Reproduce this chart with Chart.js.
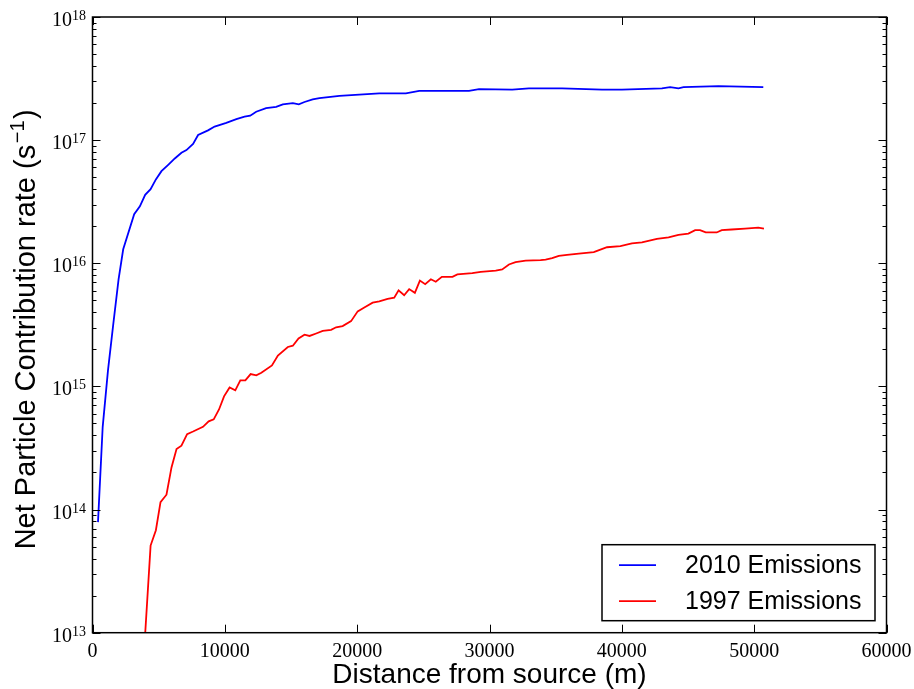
<!DOCTYPE html>
<html>
<head>
<meta charset="utf-8">
<script src="https://cdn.jsdelivr.net/npm/chart.js@4.4.1/dist/chart.umd.min.js"></script>
<style>
  html, body { margin: 0; padding: 0; background: #fff; }
  #wrap { width: 914px; height: 689px; }
</style>
</head>
<body>
<div id="wrap"><canvas id="particleChart"></canvas></div>
<script>
// --- data ---
const seriesLabels = ['2010 Emissions', '1997 Emissions'];
const seriesColors = ['#0000ff', '#ff0000'];

// 2010 emissions: distance (m) and contribution rate (s^-1)
const dist2010 = [415, 770, 1170, 1570, 1970, 2320, 3150, 3580, 3980, 4390,
    4790, 5210, 5720, 6220, 6720, 7100, 7600, 7980, 8730, 9230,
    10110, 10870, 11490, 11920, 12370, 13120, 13880, 14380, 15140, 15590,
    16020, 16640, 17150, 18660, 20160, 21670, 23680, 24690, 28450, 29210,
    31720, 32980, 35490, 38500, 40010, 43030, 43650, 44280, 44660, 47300,
    50690];
const rate2010 = [7.9e13, 4.7e14, 1.35e15, 3.2e15, 7.4e15, 1.3e16, 2.5e16, 2.9e16, 3.6e16, 4.0e16,
    4.8e16, 5.6e16, 6.3e16, 7.1e16, 7.9e16, 8.3e16, 9.3e16, 1.10e17, 1.20e17, 1.29e17,
    1.38e17, 1.48e17, 1.55e17, 1.58e17, 1.70e17, 1.82e17, 1.86e17, 1.95e17, 2.0e17, 1.95e17,
    2.04e17, 2.14e17, 2.19e17, 2.29e17, 2.34e17, 2.40e17, 2.40e17, 2.51e17, 2.51e17, 2.60e17,
    2.57e17, 2.63e17, 2.63e17, 2.57e17, 2.57e17, 2.63e17, 2.69e17, 2.63e17, 2.69e17, 2.75e17,
    2.69e17];

// 1997 emissions
const dist1997 = [3980, 4390, 4790, 5140, 5590, 5970, 6350, 6720, 7150, 7600,
    8350, 8780, 9160, 9560, 9940, 10360, 10790, 11170, 11550, 11950,
    12380, 12760, 13560, 14010, 14760, 15140, 15570, 16020, 16400, 16900,
    17400, 18030, 18410, 18900, 19540, 20040, 20540, 21170, 21670, 22300,
    22800, 23130, 23550, 23930, 24360, 24740, 25140, 25570, 25940, 26400,
    27200, 27570, 28700, 29340, 30470, 30960, 31470, 31970, 32730, 33860,
    34240, 34730, 35240, 35860, 36750, 37880, 38380, 38880, 39890, 40760,
    41520, 42650, 43530, 44280, 45030, 45540, 45910, 46340, 47170, 47550,
    48300, 49310, 50310, 50740];
const rate1997 = [9.8e12, 5.1e13, 6.8e13, 1.15e14, 1.32e14, 2.2e14, 3.1e14, 3.3e14, 4.1e14, 4.3e14,
    4.7e14, 5.2e14, 5.4e14, 6.5e14, 8.3e14, 9.8e14, 9.3e14, 1.12e15, 1.12e15, 1.26e15,
    1.23e15, 1.29e15, 1.48e15, 1.78e15, 2.09e15, 2.14e15, 2.45e15, 2.63e15, 2.57e15, 2.69e15,
    2.82e15, 2.88e15, 3.02e15, 3.09e15, 3.39e15, 4.07e15, 4.37e15, 4.79e15, 4.90e15, 5.13e15,
    5.25e15, 6.03e15, 5.50e15, 6.17e15, 5.75e15, 7.24e15, 6.76e15, 7.41e15, 7.08e15, 7.76e15,
    7.76e15, 8.13e15, 8.32e15, 8.51e15, 8.71e15, 8.91e15, 9.77e15, 1.02e16, 1.05e16, 1.06e16,
    1.07e16, 1.10e16, 1.15e16, 1.17e16, 1.20e16, 1.23e16, 1.29e16, 1.35e16, 1.38e16, 1.45e16,
    1.48e16, 1.58e16, 1.62e16, 1.70e16, 1.74e16, 1.86e16, 1.86e16, 1.78e16, 1.78e16, 1.86e16,
    1.88e16, 1.91e16, 1.95e16, 1.91e16];

// axes
const xTickValues = [0, 10000, 20000, 30000, 40000, 50000, 60000];
const yDecades = [13, 14, 15, 16, 17, 18];
const yMinorSteps = [2, 3, 4, 5, 6, 7, 8, 9];
const xTitle = 'Distance from source (m)';
const yTitleParts = ['Net Particle Contribution rate (s', '\u22121', ')'];

const SANS = "'Liberation Sans', Arial, sans-serif";
const SERIF = "'Liberation Serif', 'Times New Roman', serif";

function toPoints(xs, ys) {
    return xs.map((x, i) => ({x: x, y: ys[i]}));
}

function isDecade(v) {
    const l = Math.log10(v);
    return Math.abs(l - Math.round(l)) < 1e-9;
}

// matplotlib-style frame with inward ticks on all four sides
const frameTicks = {
    id: 'frameTicks',
    afterDatasetsDraw(chart) {
        const {ctx, chartArea: a, scales: {x, y}} = chart;
        ctx.save();
        ctx.strokeStyle = '#000';
        ctx.lineWidth = 1;
        ctx.beginPath();
        x.ticks.forEach(t => {
            const px = Math.round(x.getPixelForValue(t.value)) + 0.5;
            ctx.moveTo(px, a.bottom); ctx.lineTo(px, a.bottom - 8);
            ctx.moveTo(px, a.top); ctx.lineTo(px, a.top + 8);
        });
        y.ticks.forEach(t => {
            const py = Math.round(y.getPixelForValue(t.value)) + 0.5;
            const len = isDecade(t.value) ? 8 : 4;
            ctx.moveTo(a.left, py); ctx.lineTo(a.left + len, py);
            ctx.moveTo(a.right, py); ctx.lineTo(a.right - len, py);
        });
        ctx.stroke();
        ctx.lineWidth = 1.5;
        ctx.strokeRect(a.left, a.top, a.width, a.height);
        ctx.restore();
    }
};

// y tick labels as 10 with a raised exponent, and the rotated y title
const powerLabels = {
    id: 'powerLabels',
    afterDraw(chart) {
        const {ctx, chartArea: a, scales: {y}} = chart;
        ctx.save();
        ctx.fillStyle = '#000';
        ctx.textBaseline = 'alphabetic';
        y.ticks.forEach(t => {
            if (!isDecade(t.value)) return;
            const py = y.getPixelForValue(t.value);
            const exp = String(Math.round(Math.log10(t.value)));
            const right = a.left - 6.5;
            ctx.font = '14px ' + SERIF;
            ctx.textAlign = 'right';
            ctx.fillText(exp, right, py + 3);
            const ew = ctx.measureText(exp).width;
            ctx.font = '20px ' + SERIF;
            ctx.fillText('10', right - ew, py + 9);
        });

        // rotated title with superscript
        ctx.font = '29px ' + SANS;
        const w0 = ctx.measureText(yTitleParts[0]).width;
        const w2 = ctx.measureText(yTitleParts[2]).width;
        ctx.font = '20px ' + SANS;
        const w1 = ctx.measureText(yTitleParts[1]).width;
        const total = w0 + w1 + w2 + 3;
        ctx.translate(35, (a.top + a.bottom) / 2 + 4.5);
        ctx.rotate(-Math.PI / 2);
        ctx.textAlign = 'left';
        let cx = -total / 2;
        ctx.font = '29px ' + SANS;
        ctx.fillText(yTitleParts[0], cx, 0);
        cx += w0 + 1.5;
        ctx.font = '20px ' + SANS;
        ctx.fillText(yTitleParts[1], cx, -11);
        cx += w1 + 1.5;
        ctx.font = '29px ' + SANS;
        ctx.fillText(yTitleParts[2], cx, 0);
        ctx.restore();
    }
};

// boxed legend in the lower right corner of the plot
const boxLegend = {
    id: 'boxLegend',
    afterDraw(chart) {
        const {ctx, chartArea: a} = chart;
        const w = 273, h = 76;
        const left = a.right - 11.5 - w;
        const top = a.bottom - 12 - h;
        ctx.save();
        ctx.fillStyle = '#fff';
        ctx.fillRect(left, top, w, h);
        ctx.strokeStyle = '#000';
        ctx.lineWidth = 1.5;
        ctx.strokeRect(left, top, w, h);
        ctx.font = '25px ' + SANS;
        ctx.textBaseline = 'middle';
        chart.data.datasets.forEach((ds, i) => {
            const rowY = top + 20.5 + i * 36;
            ctx.strokeStyle = ds.borderColor;
            ctx.lineWidth = 1.8;
            ctx.beginPath();
            ctx.moveTo(left + 17, rowY);
            ctx.lineTo(left + 54, rowY);
            ctx.stroke();
            ctx.fillStyle = '#000';
            ctx.fillText(ds.label, left + 83, rowY + 1);
        });
        ctx.restore();
    }
};

const ctx = document.getElementById('particleChart');

new Chart(ctx, {
    type: 'line',
    data: {
        datasets: [
            {
                label: seriesLabels[0],
                data: toPoints(dist2010, rate2010),
                borderColor: seriesColors[0],
                borderWidth: 1.8,
                pointRadius: 0,
                tension: 0,
                fill: false
            },
            {
                label: seriesLabels[1],
                data: toPoints(dist1997, rate1997),
                borderColor: seriesColors[1],
                borderWidth: 1.8,
                pointRadius: 0,
                tension: 0,
                fill: false
            }
        ]
    },
    options: {
        responsive: true,
        maintainAspectRatio: false,
        animation: false,
        layout: {
            padding: {left: 0, right: 27.5, top: 17, bottom: 0}
        },
        plugins: {
            legend: {display: false},
            tooltip: {enabled: false}
        },
        scales: {
            x: {
                type: 'linear',
                min: xTickValues[0],
                max: xTickValues[xTickValues.length - 1],
                afterBuildTicks: scale => {
                    scale.ticks = xTickValues.map(v => ({value: v}));
                },
                afterFit: scale => {
                    scale.height = 56.3;
                    scale.paddingLeft = 0;
                    scale.paddingRight = 0;
                },
                grid: {display: false, drawTicks: false},
                border: {display: false},
                ticks: {
                    color: '#000',
                    padding: 7,
                    maxRotation: 0,
                    autoSkip: false,
                    font: {family: SERIF, size: 20},
                    callback: value => String(value)
                },
                title: {
                    display: true,
                    text: xTitle,
                    color: '#000',
                    padding: {top: 0, bottom: 0},
                    font: {family: SANS, size: 28, lineHeight: 1.0}
                }
            },
            y: {
                type: 'logarithmic',
                min: Math.pow(10, yDecades[0]),
                max: Math.pow(10, yDecades[yDecades.length - 1]),
                afterBuildTicks: scale => {
                    const ticks = [];
                    yDecades.forEach((e, i) => {
                        ticks.push({value: Math.pow(10, e)});
                        if (i < yDecades.length - 1) {
                            yMinorSteps.forEach(m => ticks.push({value: m * Math.pow(10, e)}));
                        }
                    });
                    scale.ticks = ticks;
                },
                afterFit: scale => {
                    scale.width = 92.5;
                    scale.paddingTop = 0;
                    scale.paddingBottom = 0;
                },
                grid: {display: false, drawTicks: false},
                border: {display: false},
                ticks: {display: false}
            }
        }
    },
    plugins: [frameTicks, powerLabels, boxLegend]
});
</script>
</body>
</html>
